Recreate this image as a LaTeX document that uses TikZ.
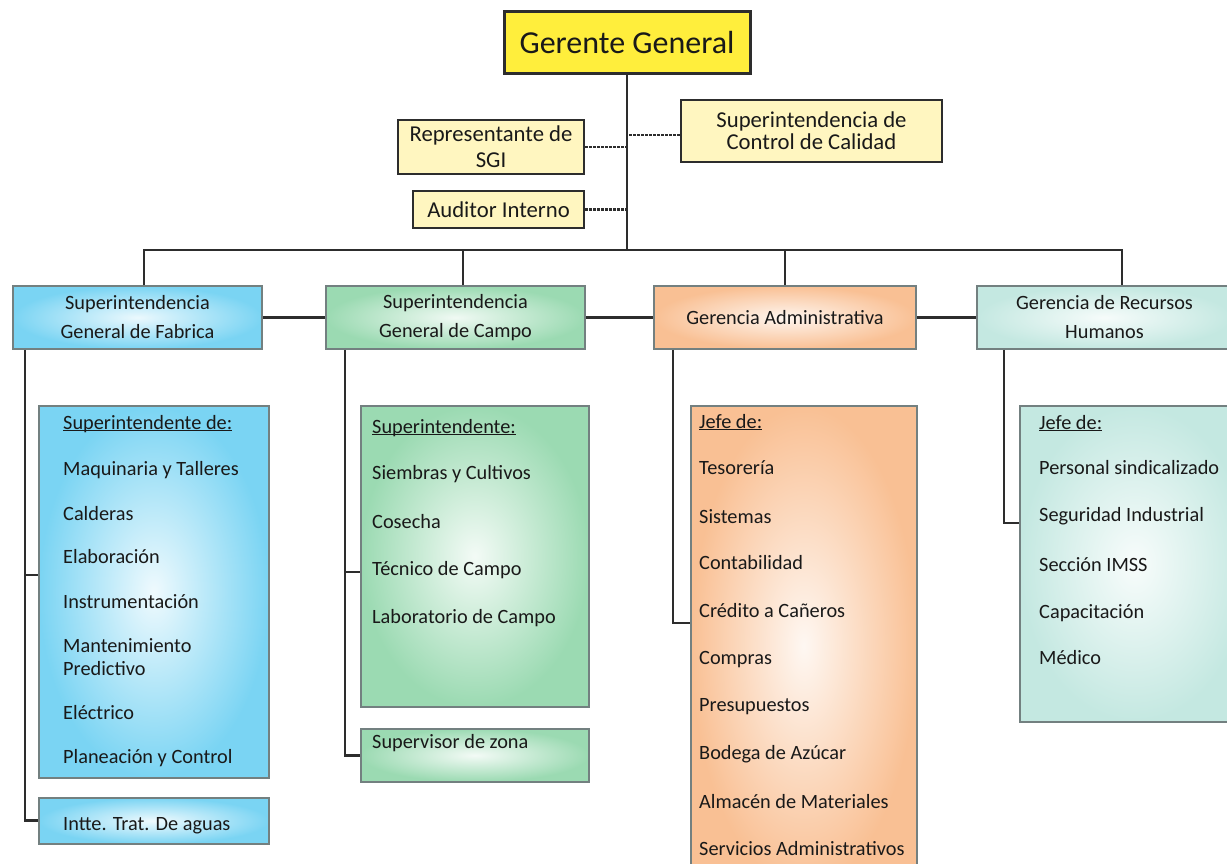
\documentclass[tikz,border=0pt]{standalone}
\usepackage{fontspec}
\setmainfont{Carlito}

\definecolor{gerfill}{RGB}{255,238,60}
\definecolor{stafffill}{RGB}{255,246,192}
\definecolor{fabcol}{RGB}{122,212,243}
\definecolor{campocol}{RGB}{155,218,178}
\definecolor{admcol}{RGB}{249,192,148}
\definecolor{rhcol}{RGB}{196,232,225}
\definecolor{linecol}{RGB}{45,45,45}
\definecolor{boxline}{RGB}{115,128,128}
\definecolor{txtcol}{RGB}{25,25,25}

\newcommand{\ulhead}[1]{\underline{\smash{#1}}}

\tikzset{
  every node/.style={text=txtcol},
  staff/.style={draw=linecol, line width=2.5pt, fill=stafffill, align=center, inner sep=0pt},
  unit/.style={draw=boxline, line width=1.5pt, shading=radial, inner color=#1!15, outer color=#1,
    font=\fontsize{20.3}{29}\selectfont, align=center, inner sep=0pt, minimum height=63pt},
  listbox/.style={draw=boxline, line width=1.5pt, shading=radial, inner color=#1!12, outer color=#1,
    anchor=north west, inner sep=0pt},
  item/.style={anchor=base west, inner sep=0pt, font=\fontsize{20.3}{23}\selectfont},
  conn/.style={draw=linecol, line width=2.8pt},
  dots/.style={draw=linecol, line width=2.2pt, dash pattern=on 2.5pt off 1.5pt}
}

\begin{document}
\begin{tikzpicture}[x=1pt, y=-1pt]
  \useasboundingbox (0,0) rectangle (1227,864);
  \clip (0,0) rectangle (1227,864);

  % direccion
  \node[draw=linecol, line width=3pt, fill=gerfill, minimum width=246pt, minimum height=62pt,
    inner sep=0pt, font=\fontsize{32}{36}\selectfont] (ger) at (627,43) {Gerente General};
  \node[staff, minimum width=186pt, minimum height=54pt, font=\fontsize{22.7}{26}\selectfont]
    (rep) at (491,147) {Representante de\\SGI};
  \node[staff, minimum width=261pt, minimum height=62pt, font=\fontsize{22.7}{22}\selectfont]
    (cal) at (811.5,131) {Superintendencia de\\Control de Calidad};
  \node[staff, minimum width=171pt, minimum height=37pt, font=\fontsize{22.7}{26}\selectfont]
    (aud) at (498.5,209.5) {Auditor Interno};

  % gerencias
  \node[unit=fabcol, minimum width=249pt] (fab) at (137.5,317.5) {Superintendencia\\General de Fabrica};
  \node[unit=campocol, minimum width=259pt] (campo) at (455.5,317.5) {Superintendencia\\General de Campo};
  \node[unit=admcol, minimum width=262pt] (adm) at (785,317.5) {Gerencia Administrativa};
  \node[unit=rhcol, minimum width=255pt] (rh) at (1104.5,317.5) {Gerencia de Recursos\\Humanos};

  \coordinate (bus) at (627,250);
  \coordinate (busL) at (144,250);
  \coordinate (busC) at (463,250);
  \coordinate (busA) at (785,250);
  \coordinate (busR) at (1122,250);

  \draw[conn] (ger.south) -- (bus);
  \draw[conn] (busL |- fab.north) -- (busL) -- (busR) -- (busR |- rh.north);
  \draw[conn] (busC) -- (busC |- campo.north);
  \draw[conn] (busA) -- (busA |- adm.north);
  \draw[dots] (rep.east) -- (rep.east -| bus);
  \draw[dots] ([yshift=-4pt]cal.west) -- ([yshift=-4pt]cal.west -| bus);
  \draw[dots] (aud.east) -- (aud.east -| bus);
  \draw[conn] (fab) -- (campo);
  \draw[conn] (campo) -- (adm);
  \draw[conn] (adm) -- (rh);

  % cajas de jefaturas
  \node[listbox=fabcol, minimum width=230pt, minimum height=372pt] (fablist) at (38,405) {};
  \node[listbox=fabcol, minimum width=230pt, minimum height=46pt] (inte) at (38,797) {};
  \node[listbox=campocol, minimum width=228pt, minimum height=301pt] (campolist) at (360,405) {};
  \node[listbox=campocol, minimum width=228pt, minimum height=53pt] (sup) at (360,728) {};
  \node[listbox=admcol, minimum width=226pt, minimum height=480pt] (admlist) at (690,405) {};
  \node[listbox=rhcol, minimum width=230pt, minimum height=316pt] (rhlist) at (1019,405) {};

  \foreach \y/\t [count=\i] in {429/\ulhead{Superintendente de:}, 475/Maquinaria y Talleres,
      520/Calderas, 563/Elaboración, 608/Instrumentación, 652/Mantenimiento, 675/Predictivo,
      719/Eléctrico, 763/Planeación y Control}
    \node[item] (fab\i) at (63,\y) {\t};
  \node[item] (intetxt) at (63,830) {Intte. Trat. De aguas};

  \foreach \y/\t [count=\i] in {433/\ulhead{Superintendente:}, 479/Siembras y Cultivos,
      528/Cosecha, 575/Técnico de Campo, 623/Laboratorio de Campo}
    \node[item] (campo\i) at (372,\y) {\t};
  \node[item] (suptxt) at (372,748) {Supervisor de zona};

  \foreach \y/\t [count=\i] in {428/\ulhead{Jefe de:}, 474/Tesorería, 523/Sistemas,
      569/Contabilidad, 617/Crédito a Cañeros, 664/Compras, 711/Presupuestos,
      759/Bodega de Azúcar, 808/Almacén de Materiales, 855/Servicios Administrativos}
    \node[item] (adm\i) at (699,\y) {\t};

  \foreach \y/\t [count=\i] in {429/\ulhead{Jefe de:}, 474/Personal sindicalizado,
      521/Seguridad Industrial, 571/Sección IMSS, 618/Capacitación, 664/Médico}
    \node[item] (rh\i) at (1039,\y) {\t};

  % enlaces hacia abajo
  \coordinate (fabv) at (25,575);
  \coordinate (campov) at (345,572);
  \coordinate (admv) at (673,623);
  \coordinate (rhv) at (1004,523);
  \draw[conn] (fabv |- fab.south) -- (fabv |- inte.west) -- (inte.west);
  \draw[conn] (fabv) -- (fabv -| fablist.west);
  \draw[conn] (campov |- campo.south) -- (campov |- sup.west) -- (sup.west);
  \draw[conn] (campov) -- (campov -| campolist.west);
  \draw[conn] (admv |- adm.south) -- (admv) -- (admv -| admlist.west);
  \draw[conn] (rhv |- rh.south) -- (rhv) -- (rhv -| rhlist.west);
\end{tikzpicture}
\end{document}
